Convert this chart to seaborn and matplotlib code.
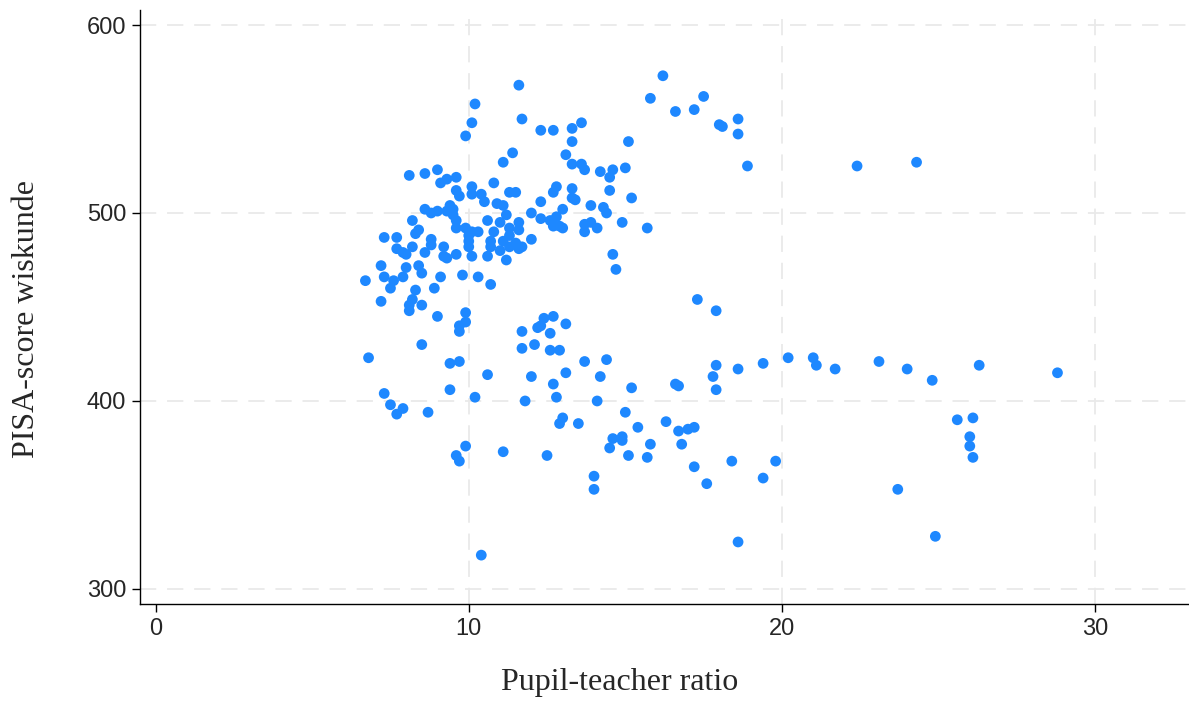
import matplotlib
matplotlib.use("Agg")
import matplotlib.pyplot as plt
import seaborn as sns
import pandas as pd

# Pupil-teacher ratio per school
ratio = [
    16.2, 11.6, 15.8, 17.5, 10.2, 16.6, 17.2, 11.7, 18.6, 10.1,
    18.0, 18.1, 13.6, 13.3, 12.3, 12.7, 18.6, 9.9, 13.3, 15.1,
    11.4, 13.1, 18.9, 22.4, 24.3, 11.1, 13.3, 13.6, 13.7, 14.2,
    14.6, 14.5, 15.0, 8.1, 8.6, 9.0, 9.1, 9.3, 9.6, 10.1,
    10.8, 9.6, 9.7, 10.1, 10.4, 10.5, 11.3, 11.5, 12.8, 12.7,
    13.3, 13.3, 13.4, 13.9, 14.3, 14.4, 14.5, 15.2, 12.3, 13.0,
    12.0, 8.6, 8.8, 9.0, 9.3, 9.5, 9.4, 9.5, 10.9, 11.1,
    11.2, 9.6, 9.6, 8.2, 10.6, 11.0, 9.9, 10.0, 10.1, 10.3,
    8.4, 8.3, 10.8, 11.3, 11.3, 7.3, 7.7, 8.8, 8.8, 8.6,
    9.2, 9.2, 9.3, 9.6, 10.0, 10.0, 10.1, 10.7, 10.7, 11.1,
    11.0, 11.3, 11.5, 11.6, 11.6, 11.6, 11.7, 12.0, 12.3, 12.6,
    12.8, 12.7, 12.9, 13.0, 13.7, 13.9, 14.1, 13.7, 14.9, 15.7,
    10.6, 11.2, 7.7, 7.9, 8.0, 8.2, 7.2, 8.0, 8.4, 8.5,
    7.3, 7.6, 7.5, 7.9, 6.7, 9.1, 9.8, 10.3, 10.7, 8.3,
    8.9, 7.2, 8.2, 8.1, 8.1, 8.5, 9.0, 9.9, 9.9, 9.7,
    9.7, 14.7, 14.6, 17.3, 17.9,
    12.4, 12.7, 13.1, 12.2, 12.3, 11.7, 12.6, 11.7, 12.1, 12.6,
    12.9, 8.5, 6.8, 9.4, 9.7, 13.7, 14.4, 10.6, 12.0, 13.1,
    14.2, 12.7, 15.2, 16.6, 16.7, 17.9, 17.8, 17.9, 18.6, 19.4,
    20.2, 21.0, 21.1, 21.7, 23.1, 24.0, 24.8, 26.3, 28.8, 25.6,
    26.1, 26.0, 26.0, 26.1, 7.3, 7.5, 7.9, 7.7, 8.7, 9.4,
    10.2, 11.8, 12.8, 14.1, 15.0, 13.0, 12.9, 13.5, 15.4, 16.3,
    16.7, 17.0, 17.2, 14.6, 14.9, 14.9, 14.5, 15.8, 16.8, 9.9,
    9.6, 9.7, 11.1, 12.5, 15.1, 15.7, 17.2, 17.6, 18.4, 19.8,
    19.4, 14.0, 14.0, 23.7, 10.4, 18.6, 24.9,
]

# PISA mathematics score per school
score = [
    573, 568, 561, 562, 558, 554, 555, 550, 550, 548,
    547, 546, 548, 545, 544, 544, 542, 541, 538, 538,
    532, 531, 525, 525, 527, 527, 526, 526, 523, 522,
    523, 519, 524, 520, 521, 523, 516, 518, 519, 514,
    516, 512, 509, 510, 510, 506, 511, 511, 514, 511,
    513, 508, 507, 504, 503, 500, 512, 508, 506, 502,
    500, 502, 500, 501, 501, 499, 504, 502, 505, 504,
    499, 496, 492, 496, 496, 495, 492, 488, 490, 490,
    491, 489, 490, 492, 488, 487, 487, 486, 483, 479,
    482, 477, 476, 478, 485, 482, 477, 485, 482, 485,
    480, 482, 484, 495, 491, 481, 482, 486, 497, 496,
    498, 493, 493, 492, 494, 495, 492, 490, 495, 492,
    477, 475, 481, 479, 478, 482, 472, 471, 472, 468,
    466, 464, 460, 466, 464, 466, 467, 466, 462, 459,
    460, 453, 454, 451, 448, 451, 445, 447, 442, 440,
    437, 470, 478, 454, 448,
    444, 445, 441, 439, 440, 437, 436, 428, 430, 427,
    427, 430, 423, 420, 421, 421, 422, 414, 413, 415,
    413, 409, 407, 409, 408, 419, 413, 406, 417, 420,
    423, 423, 419, 417, 421, 417, 411, 419, 415, 390,
    391, 381, 376, 370, 404, 398, 396, 393, 394, 406,
    402, 400, 402, 400, 394, 391, 388, 388, 386, 389,
    384, 385, 386, 380, 381, 379, 375, 377, 377, 376,
    371, 368, 373, 371, 371, 370, 365, 356, 368, 368,
    359, 360, 353, 353, 318, 325, 328,
]

df = pd.DataFrame({"ratio": ratio, "score": score})

x_ticks = [0, 10, 20, 30]
y_ticks = [300, 400, 500, 600]

sns.set_style("white")
plt.rcParams["font.family"] = ["Liberation Sans", "DejaVu Sans"]

fig = plt.figure(figsize=(11.89, 7.02), dpi=100)
ax = fig.add_axes([0.1177, 0.1396, 0.8823, 0.8462])

# dashed reference grid
for xv in x_ticks[1:]:
    ax.axvline(xv, color="#e9e9e9", lw=1.3, dashes=(9, 6), zorder=0)
for yv in y_ticks:
    ax.axhline(yv, color="#e9e9e9", lw=1.3, dashes=(9, 6), zorder=0)

sns.scatterplot(data=df, x="ratio", y="score", ax=ax, color="#1e88ff",
                s=60, linewidth=0, edgecolor="none", zorder=3)

ax.set_xlim(-0.5, 33.0)
ax.set_ylim(292, 608)
ax.set_xticks(x_ticks)
ax.set_yticks(y_ticks)
ax.tick_params(axis="both", direction="out", length=6, width=1,
               color="black", labelsize=17, pad=4, left=True, bottom=True)

for side in ["top", "right"]:
    ax.spines[side].set_visible(False)
for side in ["left", "bottom"]:
    ax.spines[side].set_color("black")
    ax.spines[side].set_linewidth(1)

ax.set_xlabel("Pupil-teacher ratio", family="Liberation Serif", fontsize=23)
ax.set_ylabel("PISA-score wiskunde", family="Liberation Serif", fontsize=23)
ax.xaxis.set_label_coords(0.457, -0.108)
ax.yaxis.set_label_coords(-0.094, 0.48)

fig.savefig("out.png", dpi=100)
